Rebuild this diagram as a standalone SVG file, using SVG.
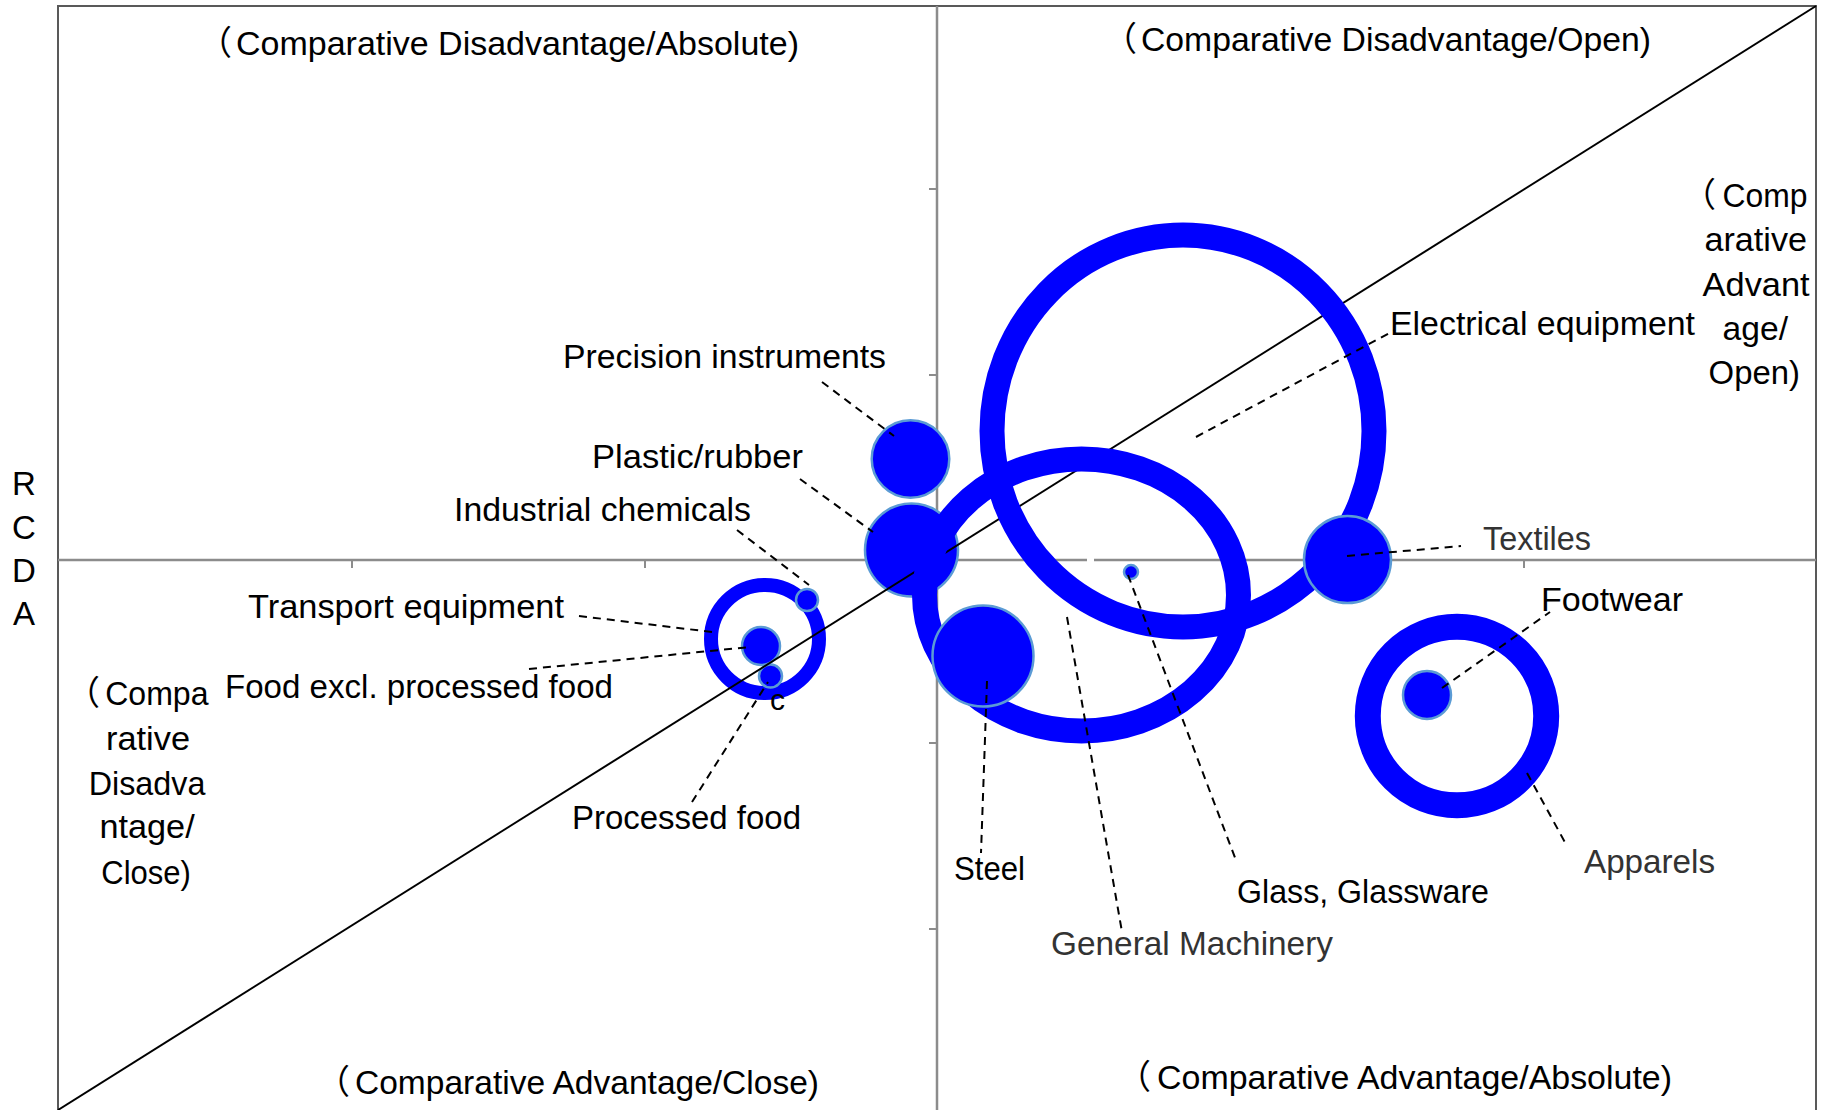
<svg xmlns="http://www.w3.org/2000/svg" width="1830" height="1110" viewBox="0 0 1830 1110">
<defs>
<style>
.frame{stroke:#595959;stroke-width:2;fill:none}
.axis{stroke:#8c8c8c;stroke-width:2.5;fill:none}
.tick{stroke:#8c8c8c;stroke-width:2}
.diag{stroke:#000;stroke-width:2}
.lead{stroke:#000;stroke-width:2;stroke-dasharray:8 6;fill:none}
.bub{fill:#0000ff;stroke:#5b9bd5;stroke-width:2.5}
.ring{fill:none;stroke:#0000ff}
.lbl{font-family:"Liberation Sans",Arial,"Noto Sans CJK JP",sans-serif;font-size:34px;fill:#000}
.light{fill:#333}
.axt{font-family:"Liberation Sans",Arial,sans-serif;font-size:33px;fill:#000;text-anchor:middle}
</style>
</defs>
<rect width="1830" height="1110" fill="#fff"/>
<g id="axes">
<path class="frame" d="M58,1110 V6 H1816 V1110"/>
<line class="axis" x1="58" y1="560" x2="1816" y2="560"/>
<line class="axis" x1="937" y1="6" x2="937" y2="1110"/>
<path class="tick" d="M929,189 H937 M929,375 H937 M929,743 H937 M929,929 H937 M352,560 V568 M645,560 V568 M1230,560 V568 M1524,560 V568"/>
</g>
<g id="ylabel"><text class="axt"><tspan x="24" y="495">R</tspan><tspan x="24" y="539">C</tspan><tspan x="24" y="582">D</tspan><tspan x="24" y="625">A</tspan></text></g>

<g id="transport-equipment"><circle class="ring" cx="765" cy="639" r="54" stroke-width="14"/></g>
<g id="industrial-chemicals"><circle class="bub" cx="807" cy="600" r="11"/></g>
<g id="food-excl-processed"><circle class="bub" cx="761" cy="646" r="19"/></g>
<g id="processed-food"><circle class="bub" cx="770.5" cy="676" r="11.5"/></g>
<g id="precision-instruments"><circle class="bub" cx="910.5" cy="459" r="38.8"/></g>
<g id="plastic-rubber"><circle class="bub" cx="911.5" cy="550" r="46.5"/></g>

<g id="diagonal"><line class="diag" x1="58" y1="1110" x2="1816" y2="6"/></g>

<g id="electrical-equipment"><ellipse class="ring" cx="1183" cy="431" rx="191" ry="196" stroke-width="25"/></g>
<g id="general-machinery"><ellipse class="ring" cx="1081.5" cy="595" rx="157" ry="136" stroke-width="25"/></g>
<g id="steel"><circle class="bub" cx="983" cy="656" r="50.5"/></g>
<g id="textiles"><circle class="bub" cx="1347.5" cy="559.5" r="43.5"/></g>
<g id="glass"><circle class="bub" cx="1131" cy="572" r="7"/></g>
<g id="apparels"><circle class="ring" cx="1457" cy="716" r="89.2" stroke-width="26"/></g>
<g id="footwear"><circle class="bub" cx="1427" cy="695" r="24"/></g>
<rect x="1087" y="557" width="7" height="6" fill="#fff"/>

<g id="connectors">
<path class="lead" d="M822,382 L894,436"/>
<path class="lead" d="M800,479 L873,532"/>
<path class="lead" d="M737,530 L809,585"/>
<path class="lead" d="M579,616 L712,632"/>
<path class="lead" d="M529,669 L750,647"/>
<path class="lead" d="M692,802 L768,682"/>
<path class="lead" d="M1196,437 L1395,330"/>
<path class="lead" d="M1347,556 L1461,546"/>
<path class="lead" d="M1442,688 L1550,612"/>
<path class="lead" d="M1527,773 L1567,846"/>
<path class="lead" d="M987,681 L981,853"/>
<path class="lead" d="M1067,617 L1122,932"/>
<path class="lead" d="M1128,575 L1237,863"/>
</g>

<g id="labels">
<text class="lbl" x="563" y="368" textLength="323" lengthAdjust="spacingAndGlyphs">Precision instruments</text>
<text class="lbl" x="592" y="468" textLength="211" lengthAdjust="spacingAndGlyphs">Plastic/rubber</text>
<text class="lbl" x="454" y="521" textLength="297" lengthAdjust="spacingAndGlyphs">Industrial chemicals</text>
<text class="lbl" x="248" y="618" textLength="316" lengthAdjust="spacingAndGlyphs">Transport equipment</text>
<text class="lbl" x="225" y="698" textLength="388" lengthAdjust="spacingAndGlyphs">Food excl. processed food</text>
<text class="lbl" x="572" y="829" textLength="229" lengthAdjust="spacingAndGlyphs">Processed food</text>
<text class="lbl" x="770" y="710" style="font-size:30px">c</text>
<text class="lbl" x="1390" y="335" textLength="305" lengthAdjust="spacingAndGlyphs">Electrical equipment</text>
<text class="lbl light" x="1483" y="550" textLength="108" lengthAdjust="spacingAndGlyphs">Textiles</text>
<text class="lbl" x="1541" y="611" textLength="142" lengthAdjust="spacingAndGlyphs">Footwear</text>
<text class="lbl light" x="1584" y="873" textLength="131" lengthAdjust="spacingAndGlyphs">Apparels</text>
<text class="lbl" x="1237" y="903" textLength="252" lengthAdjust="spacingAndGlyphs">Glass, Glassware</text>
<text class="lbl light" x="1051" y="955" textLength="282" lengthAdjust="spacingAndGlyphs">General Machinery</text>
<text class="lbl" x="954" y="880" textLength="71" lengthAdjust="spacingAndGlyphs">Steel</text>
</g>

<g id="quadrant-labels">
<text class="lbl" y="55"><tspan x="198">（</tspan><tspan x="236" textLength="563" lengthAdjust="spacingAndGlyphs">Comparative Disadvantage/Absolute)</tspan></text>
<text class="lbl" y="51"><tspan x="1103">（</tspan><tspan x="1141" textLength="510" lengthAdjust="spacingAndGlyphs">Comparative Disadvantage/Open)</tspan></text>
<text class="lbl" y="1094"><tspan x="316">（</tspan><tspan x="355" textLength="464" lengthAdjust="spacingAndGlyphs">Comparative Advantage/Close)</tspan></text>
<text class="lbl" y="1089"><tspan x="1117">（</tspan><tspan x="1157" textLength="515" lengthAdjust="spacingAndGlyphs">Comparative Advantage/Absolute)</tspan></text>
<text class="lbl"><tspan x="1682" y="207">（</tspan><tspan x="1722.6" y="207" textLength="85" lengthAdjust="spacingAndGlyphs">Comp</tspan><tspan x="1704.4" y="250.5" textLength="102.6" lengthAdjust="spacingAndGlyphs">arative</tspan><tspan x="1702.6" y="296" textLength="107" lengthAdjust="spacingAndGlyphs">Advant</tspan><tspan x="1722.6" y="340" textLength="65.4" lengthAdjust="spacingAndGlyphs">age/</tspan><tspan x="1708.6" y="384" textLength="91.4" lengthAdjust="spacingAndGlyphs">Open)</tspan></text>
<text class="lbl"><tspan x="66" y="705">（</tspan><tspan x="105.2" y="705" textLength="103.3" lengthAdjust="spacingAndGlyphs">Compa</tspan><tspan x="106" y="750" textLength="84" lengthAdjust="spacingAndGlyphs">rative</tspan><tspan x="88.7" y="795" textLength="116.7" lengthAdjust="spacingAndGlyphs">Disadva</tspan><tspan x="99.4" y="838" textLength="95.3" lengthAdjust="spacingAndGlyphs">ntage/</tspan><tspan x="101.3" y="884" textLength="89.6" lengthAdjust="spacingAndGlyphs">Close)</tspan></text>
</g>
</svg>
